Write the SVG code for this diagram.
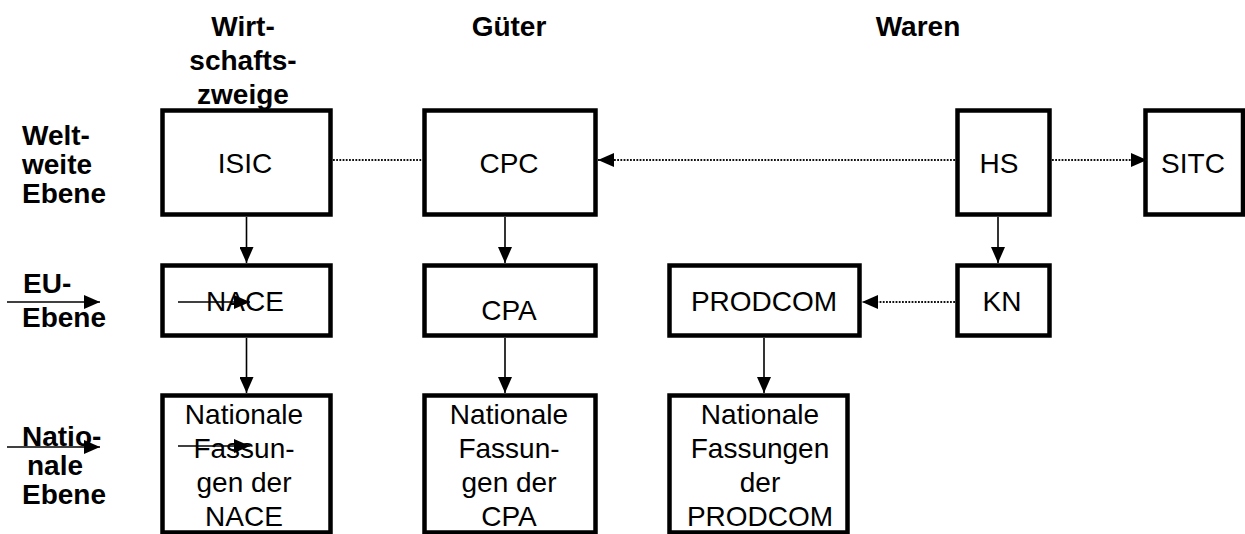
<svg xmlns="http://www.w3.org/2000/svg" width="1245" height="534" viewBox="0 0 1245 534">
<defs>
<style>
.box{fill:#fff;stroke:#000;stroke-width:4.5}
.t{font-family:"Liberation Sans",Arial,sans-serif;font-size:28px;fill:#000;text-anchor:middle}
.h{font-family:"Liberation Sans",Arial,sans-serif;font-size:28px;font-weight:bold;fill:#000}
.c{text-anchor:middle}
.solid{stroke:#000;stroke-width:1.6;fill:none}
.dot{stroke:#111;stroke-width:2;stroke-dasharray:1.8 1.4;fill:none}
</style>
<marker id="ah" viewBox="0 0 16 14" refX="16" refY="7" markerWidth="16" markerHeight="14" markerUnits="userSpaceOnUse" orient="auto">
<path d="M0,0 L16,7 L0,14 Z" fill="#000"/>
</marker>
</defs>
<rect width="1245" height="534" fill="#fff"/>

<g id="headers">
<text class="h c" x="243" y="36">Wirt-</text>
<text class="h c" x="243" y="70">schafts-</text>
<text class="h c" x="243" y="104">zweige</text>
<text class="h c" x="509" y="36">Güter</text>
<text class="h c" x="918" y="36">Waren</text>
</g>

<g id="rowlabels">
<text class="h" x="22" y="145">Welt-</text>
<text class="h" x="22" y="174">weite</text>
<text class="h" x="22" y="203">Ebene</text>
<text class="h" x="23" y="293">EU-</text>
<text class="h" x="22" y="327">Ebene</text>
<text class="h" x="22" y="446">Natio-</text>
<text class="h" x="27" y="475">nale</text>
<text class="h" x="22" y="504">Ebene</text>
</g>

<g id="isic"><rect class="box" x="162.5" y="110.5" width="168" height="104"/><text class="t" x="245" y="173">ISIC</text></g>
<g id="cpc"><rect class="box" x="424.5" y="110.5" width="171" height="104"/><text class="t" x="509" y="173">CPC</text></g>
<g id="hs"><rect class="box" x="957.5" y="110.5" width="92" height="104"/><text class="t" x="999" y="173">HS</text></g>
<g id="sitc"><rect class="box" x="1145.5" y="110.5" width="97.5" height="104"/><text class="t" x="1193" y="173">SITC</text></g>

<g id="nace"><rect class="box" x="162.5" y="265.5" width="168" height="70"/><text class="t" x="245" y="311">NACE</text></g>
<g id="cpa"><rect class="box" x="424.5" y="265.5" width="171" height="70"/><text class="t" x="509" y="320">CPA</text></g>
<g id="prodcom"><rect class="box" x="669.5" y="265.5" width="190" height="70"/><text class="t" x="764" y="311">PRODCOM</text></g>
<g id="kn"><rect class="box" x="957.5" y="265.5" width="92" height="70"/><text class="t" x="1002" y="311">KN</text></g>

<g id="nat-nace"><rect class="box" x="162.5" y="395.5" width="168" height="137"/>
<text class="t" x="244" y="424">Nationale</text><text class="t" x="244" y="458">Fassun-</text><text class="t" x="244" y="492">gen der</text><text class="t" x="244" y="526">NACE</text></g>
<g id="nat-cpa"><rect class="box" x="424.5" y="395.5" width="171" height="137"/>
<text class="t" x="509" y="424">Nationale</text><text class="t" x="509" y="458">Fassun-</text><text class="t" x="509" y="492">gen der</text><text class="t" x="509" y="526">CPA</text></g>
<g id="nat-prodcom"><rect class="box" x="669.5" y="395.5" width="178" height="137"/>
<text class="t" x="760" y="424">Nationale</text><text class="t" x="760" y="458">Fassungen</text><text class="t" x="760" y="492">der</text><text class="t" x="760" y="526">PRODCOM</text></g>

<g id="connectors">
<line class="solid" x1="246.5" y1="217" x2="246.5" y2="263" marker-end="url(#ah)"/>
<line class="solid" x1="246.5" y1="338" x2="246.5" y2="393" marker-end="url(#ah)"/>
<line class="solid" x1="505" y1="217" x2="505" y2="263" marker-end="url(#ah)"/>
<line class="solid" x1="505" y1="338" x2="505" y2="393" marker-end="url(#ah)"/>
<line class="solid" x1="764" y1="338" x2="764" y2="393" marker-end="url(#ah)"/>
<line class="solid" x1="998" y1="217" x2="998" y2="263" marker-end="url(#ah)"/>
<line class="dot" x1="333" y1="160" x2="422" y2="160"/>
<line class="dot" x1="955" y1="160" x2="598" y2="160" marker-end="url(#ah)"/>
<line class="dot" x1="1052" y1="160" x2="1147" y2="160" marker-end="url(#ah)"/>
<line class="dot" x1="955" y1="302" x2="862" y2="302" marker-end="url(#ah)"/>
<line class="solid" x1="7" y1="302" x2="100" y2="302" marker-end="url(#ah)"/>
<line class="solid" x1="178" y1="302" x2="250" y2="302" marker-end="url(#ah)"/>
<line class="solid" x1="7" y1="447" x2="100" y2="447" marker-end="url(#ah)"/>
<line class="solid" x1="178" y1="446" x2="250" y2="446" marker-end="url(#ah)"/>
</g>
</svg>
